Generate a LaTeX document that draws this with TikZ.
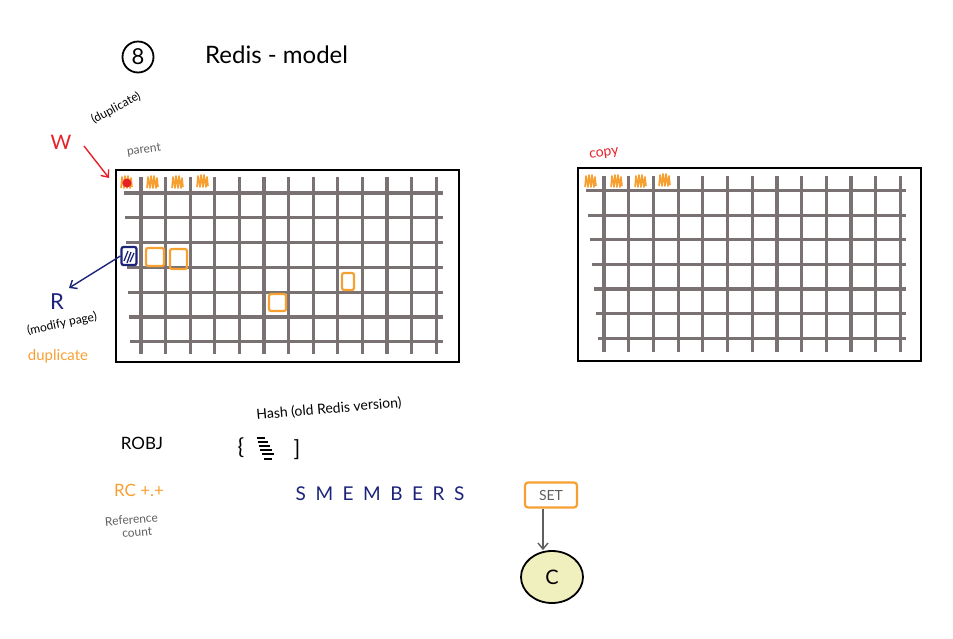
\documentclass[tikz,border=0pt]{standalone}
\usepackage{fontspec}
\setmainfont{Lato}
\newfontfamily\spaced[LetterSpace=50]{Lato}
\usetikzlibrary{arrows.meta,shapes.geometric}
\definecolor{gridgray}{RGB}{122,114,114}
\definecolor{sorange}{RGB}{247,160,50}
\definecolor{sred}{RGB}{230,32,40}
\definecolor{snavy}{RGB}{28,36,122}
\definecolor{sgray}{RGB}{95,95,95}
\definecolor{syellow}{RGB}{240,240,190}
\tikzset{
  gline/.style={draw=gridgray,line width=3.2pt},
  frame/.style={draw=black,line width=2.8pt},
  scrib/.style={draw=sorange,line width=1.6pt,line join=round},
  obox/.style={draw=sorange,line width=2.2pt,rounded corners=2pt},
  txt/.style={inner sep=0pt},
  arr/.style={-{Straight Barb[length=6pt,width=10pt]},line width=1.4pt}
}
\newcommand{\scribble}[2]{\draw[scrib] (#1-5,#2+6) -- (#1-4,#2-5) -- (#1-2,#2+6) -- (#1-1,#2-6) -- (#1+1,#2+6) -- (#1+2,#2-6) -- (#1+4,#2+6) -- (#1+5,#2-4) -- (#1+6,#2+5);}
\begin{document}
\begin{tikzpicture}[x=1pt,y=-1pt]
\useasboundingbox (0,0) rectangle (953,638);
% title
\node[draw=black,line width=1.8pt,circle,minimum size=31pt,inner sep=0pt,font=\fontsize{22}{22}\selectfont] (num) at (138,57) {8};
\node[txt,font=\fontsize{24}{24}\selectfont,anchor=west] (title) at (205,55) {Redis - model};
% left grid
\foreach \i in {0,...,12} {\draw[gline] (141+24.6*\i,177) -- (141+24.6*\i,354);}
\foreach \j in {0,...,6} {\draw[gline] (124+\j,193+24.8*\j) -- (443,193+24.8*\j);}
\draw[frame] (116,170) rectangle (459,362);
\coordinate (lcorner) at (109,178);
% right grid
\foreach \i in {0,...,12} {\draw[gline] (604+24.7*\i,176) -- (604+24.7*\i,352);}
\foreach \j in {0,...,6} {\draw[gline] (586+2*\j,190.5+24.6*\j) -- (906,190.5+24.6*\j);}
\draw[frame] (578,168) rectangle (921,361);
% scribbles left
\scribble{126}{182}
\scribble{152}{182}
\scribble{177}{182}
\scribble{202}{181}
\fill[sred] (127,183) circle (4.5pt);
% scribbles right
\scribble{590}{181}
\scribble{616}{181}
\scribble{640}{181}
\scribble{664}{180}
% blue square
\node[draw=snavy,line width=2.2pt,rounded corners=2pt,minimum width=15pt,minimum height=18pt,inner sep=0pt] (bsq) at (129,256) {};
\draw[snavy,line width=1.3pt] (124,261) -- (128,251) (127,263) -- (131,252) (130,262) -- (134,253);
% orange squares
\draw[obox] (146,248) rectangle (164,266);
\draw[obox] (170,249) rectangle (187,269);
\draw[obox] (342,273) rectangle (354,290);
\draw[obox] (269,294) rectangle (286,311);
% W and labels
\node[txt,text=sred,font=\fontsize{20}{20}\selectfont] (w) at (61,142) {W};
\node[txt,rotate=28,font=\fontsize{12}{12}\selectfont] (dup1) at (116,108) {(duplicate)};
\node[txt,text=sgray,rotate=8,font=\fontsize{12}{12}\selectfont] (parent) at (144,150) {parent};
\draw[sred,arr] (84,146) -- (lcorner);
\node[txt,text=sred,rotate=8,font=\fontsize{14}{14}\selectfont] (copy) at (604,154) {copy};
% R
\node[txt,text=snavy,font=\fontsize{22}{22}\selectfont] (r) at (57,302) {R};
\draw[snavy,arr] (bsq.west) -- (69,288);
\node[txt,rotate=12,font=\fontsize{12}{12}\selectfont] (modify) at (62,324) {(modify page)};
\node[txt,text=sorange,font=\fontsize{15}{15}\selectfont] (dup2) at (58,356) {duplicate};
% lower texts
\node[txt,font=\fontsize{17}{17}\selectfont] (robj) at (142,443) {ROBJ};
\node[txt,rotate=5,font=\fontsize{14}{14}\selectfont] (hash) at (329,409) {Hash (old Redis version)};
\node[txt,font=\fontsize{22}{22}\selectfont] (lbrace) at (241,448) {\{};
\node[txt,font=\fontsize{22}{22}\selectfont] (rbrace) at (297,450) {]};
\draw[line width=1.1pt] (257,438) -- (265,438) (258,442) -- (268,442) (259,446) -- (270,446) (260,450) -- (272,450) (262,454) -- (274,454) (264,459) -- (272,459);
\node[txt,text=sorange,font=\fontsize{17}{17}\selectfont] (rc) at (139,490) {RC +.+};
\node[txt,text=sgray,rotate=5,align=center,font=\fontsize{12}{13}\selectfont] (refc) at (132,526) {Reference\\\ \ \ count};
\node[txt,text=snavy,font=\spaced\fontsize{19}{19}\selectfont] (smem) at (380,494) {SMEMBERS};
% SET and C
\node[draw=sorange,line width=2.2pt,rounded corners=3pt,minimum width=52pt,minimum height=25pt,inner sep=0pt,text=sgray,font=\fontsize{14}{14}\selectfont] (set) at (551,495) {SET};
\node[draw=black,line width=1.8pt,ellipse,fill=syellow,minimum width=62pt,minimum height=52pt,inner sep=0pt,font=\fontsize{20}{20}\selectfont] (c) at (552,577) {C};
\draw[sgray,arr] (set.south -| 543,0) -- (c.north -| 543,0);
\end{tikzpicture}
\end{document}
